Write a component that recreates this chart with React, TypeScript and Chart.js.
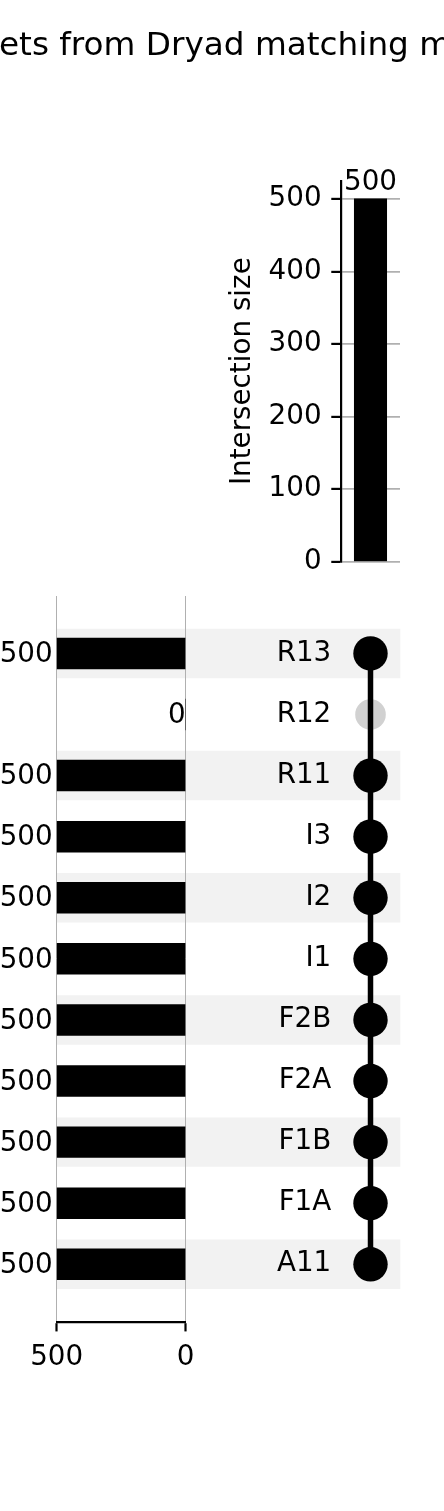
import { useEffect, useRef } from 'react';
import { Chart, registerables } from 'chart.js';

Chart.register(...registerables);

// ---- data ----
const setNames = ['R13', 'R12', 'R11', 'I3', 'I2', 'I1', 'F2B', 'F2A', 'F1B', 'F1A', 'A11'];
const setSizes = [500, 0, 500, 500, 500, 500, 500, 500, 500, 500, 500];
const intersectionSizes = [500];
const intersectionMembers = [[1, 0, 1, 1, 1, 1, 1, 1, 1, 1, 1]];
const sizeTicks = [0, 100, 200, 300, 400, 500];
const totalTicks = [0, 500];
const titleText = 'ets from Dryad matching m';

// ---- style ----
const W = 444;
const H = 1511;
const FAMILY = '"DejaVu Sans", sans-serif';
const FS = 27.78;
const TICK = 9.72;
const LW = 2.2;

Chart.defaults.font.family = FAMILY;
Chart.defaults.font.size = FS;
Chart.defaults.color = '#000';

const rowMin = -0.94;
const rowMax = 10.94;
const stripeLeft = -5.32;

function makeTop(canvas: HTMLCanvasElement) {
  const labelPlugin = {
    id: 'topLabels',
    afterDatasetsDraw(chart: any) {
      const ctx = chart.ctx;
      const meta = chart.getDatasetMeta(0);
      ctx.save();
      ctx.fillStyle = '#000';
      ctx.font = `${FS}px ${FAMILY}`;
      ctx.textAlign = 'center';
      ctx.textBaseline = 'alphabetic';
      meta.data.forEach((el: any, i: number) => {
        ctx.fillText(String(intersectionSizes[i]), el.x, el.y - 9);
      });
      ctx.font = `32.7px ${FAMILY}`;
      ctx.textAlign = 'left';
      ctx.fillText(titleText, -1, 55);
      ctx.restore();
    },
  };
  return new Chart(canvas, {
    type: 'bar',
    data: {
      labels: intersectionSizes.map((_, i) => String(i)),
      datasets: [
        {
          data: intersectionSizes,
          backgroundColor: '#000',
          barThickness: 32.4,
          borderWidth: 0,
        },
      ],
    },
    options: {
      responsive: false,
      animation: false,
      events: [],
      layout: { padding: { left: 200, right: 44, top: 180.7, bottom: H - 561.7 } },
      plugins: { legend: { display: false }, tooltip: { enabled: false }, title: { display: false } },
      scales: {
        x: { display: false },
        y: {
          type: 'linear',
          min: 0,
          max: 525,
          afterBuildTicks: (s: any) => {
            s.ticks = sizeTicks.map((v) => ({ value: v }));
          },
          afterFit: (s: any) => {
            s.width = 141;
          },
          ticks: { padding: TICK, font: { size: FS } },
          grid: { color: '#b0b0b0', lineWidth: 1.8, tickColor: '#000', tickLength: TICK, tickWidth: LW },
          border: { display: true, color: '#000', width: LW },
          title: { display: true, text: 'Intersection size', font: { size: FS }, padding: { top: 26, bottom: 0 } },
        },
      },
    },
    plugins: [labelPlugin],
  } as any);
}

function makeTotals(canvas: HTMLCanvasElement) {
  const valuePlugin = {
    id: 'totalLabels',
    afterDatasetsDraw(chart: any) {
      const ctx = chart.ctx;
      const xs = chart.scales.x;
      const ys = chart.scales.y;
      ctx.save();
      ctx.fillStyle = '#000';
      ctx.font = `${FS}px ${FAMILY}`;
      ctx.textAlign = 'right';
      ctx.textBaseline = 'middle';
      setSizes.forEach((v, i) => {
        const px = xs.getPixelForValue(v) - (v > 0 ? 4 : 0);
        ctx.fillText(String(v), px, ys.getPixelForValue(i) + 1.5);
      });
      ctx.restore();
    },
  };
  return new Chart(canvas, {
    type: 'bar',
    data: {
      datasets: [
        {
          data: setSizes.map((v, i) => ({ x: v, y: i })),
          backgroundColor: '#000',
          barThickness: 30.8,
          borderWidth: 0,
        },
      ],
    },
    options: {
      indexAxis: 'y',
      responsive: false,
      animation: false,
      events: [],
      layout: { padding: { left: 56.7, right: W - 185.7, top: 596, bottom: 100 } },
      plugins: { legend: { display: false }, tooltip: { enabled: false } },
      scales: {
        x: {
          type: 'linear',
          position: 'bottom',
          min: 0,
          max: 500,
          reverse: true,
          offset: false,
          afterBuildTicks: (s: any) => {
            s.ticks = totalTicks.map((v) => ({ value: v }));
          },
          afterFit: (s: any) => {
            s.height = H - 100 - 1321.7;
          },
          ticks: { padding: TICK, maxRotation: 0, autoSkip: false, font: { size: FS } },
          grid: { color: '#b0b0b0', lineWidth: 1, tickColor: '#000', tickLength: TICK, tickWidth: LW, offset: false },
          border: { display: true, color: '#000', width: LW },
        },
        y: { type: 'linear', min: rowMin, max: rowMax, reverse: true, display: false, offset: false, grid: { offset: false } },
      },
    },
    plugins: [valuePlugin],
  } as any);
}

function makeMatrix(canvas: HTMLCanvasElement) {
  const members = intersectionMembers[0];
  const activeRows = members.map((m, i) => (m ? i : -1)).filter((i) => i >= 0);
  const inactiveRows = members.map((m, i) => (!m ? i : -1)).filter((i) => i >= 0);
  const stripeRows = setNames.map((_, i) => i).filter((i) => i % 2 === 0);
  return new Chart(canvas, {
    type: 'scatter',
    data: {
      datasets: [
        {
          type: 'bar',
          indexAxis: 'y',
          data: stripeRows.map((i) => ({ y: i, x: [stripeLeft, 0.5] })),
          backgroundColor: '#f2f2f2',
          barThickness: 48.8,
          borderWidth: 0,
          clip: false,
          order: 4,
        },
        {
          type: 'scatter',
          data: inactiveRows.map((i) => ({ x: 0, y: i })),
          pointRadius: 15.3,
          backgroundColor: '#d1d1d1',
          borderWidth: 0,
          order: 3,
        },
        {
          type: 'line',
          data: [
            { x: 0, y: Math.min(...activeRows) },
            { x: 0, y: Math.max(...activeRows) },
          ],
          borderColor: '#000',
          borderWidth: 5.5,
          pointRadius: 0,
          showLine: true,
          order: 2,
        },
        {
          type: 'scatter',
          data: activeRows.map((i) => ({ x: 0, y: i })),
          pointRadius: 17.2,
          backgroundColor: '#000',
          borderWidth: 0,
          order: 1,
        },
      ],
    },
    options: {
      responsive: false,
      animation: false,
      events: [],
      layout: { padding: { left: 200, right: 44, top: 596, bottom: H - 1321.7 } },
      plugins: { legend: { display: false }, tooltip: { enabled: false } },
      scales: {
        x: { type: 'linear', min: -0.5, max: 0.5, display: false, offset: false },
        y: {
          type: 'linear',
          min: rowMin,
          max: rowMax,
          reverse: true,
          offset: false,
          afterBuildTicks: (s: any) => {
            s.ticks = setNames.map((_, i) => ({ value: i }));
          },
          afterFit: (s: any) => {
            s.width = 141;
          },
          ticks: {
            z: 1,
            padding: TICK,
            autoSkip: false,
            font: { size: FS },
            callback: (v: any) => setNames[Math.round(Number(v))] ?? '',
          },
          grid: { display: false, drawTicks: false, offset: false },
          border: { display: false },
        },
      },
    },
  } as any);
}

const canvasStyle: React.CSSProperties = { position: 'absolute', left: 0, top: 0, width: W, height: H };

export default function App() {
  const matRef = useRef<HTMLCanvasElement>(null);
  const totRef = useRef<HTMLCanvasElement>(null);
  const topRef = useRef<HTMLCanvasElement>(null);
  useEffect(() => {
    const charts = [
      makeMatrix(matRef.current!),
      makeTotals(totRef.current!),
      makeTop(topRef.current!),
    ];
    return () => charts.forEach((c) => c.destroy());
  }, []);
  return (
    <div style={{ position: 'absolute', left: 0, top: 0, width: W, height: H, background: '#fff', overflow: 'hidden' }}>
      <canvas ref={matRef} width={W} height={H} style={canvasStyle} />
      <canvas ref={totRef} width={W} height={H} style={canvasStyle} />
      <canvas ref={topRef} width={W} height={H} style={canvasStyle} />
    </div>
  );
}
